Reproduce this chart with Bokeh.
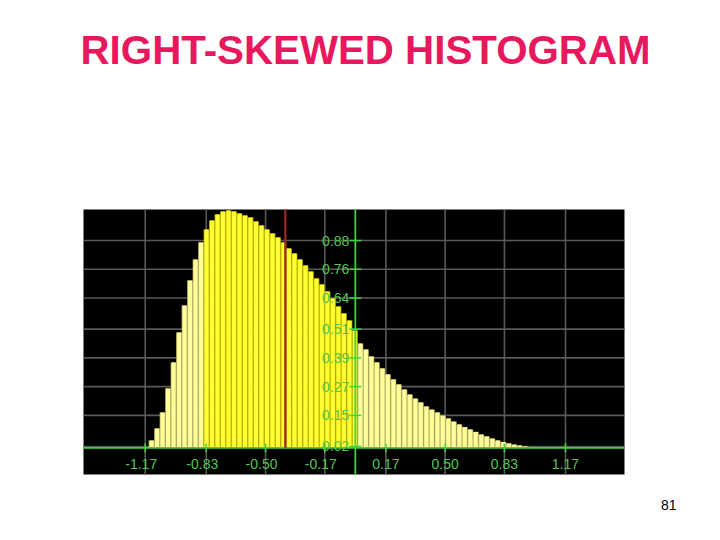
import math
from bokeh.plotting import figure
from bokeh.models import Range1d, Label, ColumnDataSource
from bokeh.embed import file_html
from bokeh.resources import INLINE

# ---------------- data ----------------
TITLE = "RIGHT-SKEWED HISTOGRAM"
PAGE_NUMBER = "81"

X_TICKS = [-1.17, -0.83, -0.50, -0.17, 0.17, 0.50, 0.83, 1.17]
X_TICK_LABELS = ["-1.17", "-0.83", "-0.50", "-0.17", "0.17", "0.50", "0.83", "1.17"]
Y_TICKS = [0.02, 0.15, 0.27, 0.39, 0.51, 0.64, 0.76, 0.88]
Y_TICK_LABELS = ["0.02", "0.15", "0.27", "0.39", "0.51", "0.64", "0.76", "0.88"]

BIN_START = -1.150
BIN_WIDTH = 0.0306
BAR_TOPS = [
    0.045, 0.095, 0.162, 0.262, 0.371, 0.496, 0.609, 0.713, 0.801, 0.872,
    0.926, 0.964, 0.989, 1.001, 1.005, 1.001, 0.993, 0.985, 0.976, 0.959,
    0.943, 0.926, 0.909, 0.893, 0.872, 0.847, 0.826, 0.801, 0.776, 0.751,
    0.721, 0.696, 0.667, 0.638, 0.605, 0.575, 0.546, 0.504, 0.450, 0.425,
    0.396, 0.371, 0.346, 0.321, 0.300, 0.279, 0.258, 0.237, 0.220, 0.204,
    0.187, 0.174, 0.162, 0.149, 0.137, 0.124, 0.112, 0.101, 0.091, 0.081,
    0.070, 0.062, 0.053, 0.045, 0.039, 0.033, 0.028, 0.024, 0.020, 0.018,
    0.016,
]
BASELINE = 0.014
MEAN_X = -0.39
BRIGHT_FROM = -0.83
BRIGHT_TO = 0.0

# plot-area (black panel) extent in data units
AREA_X = (-1.5137, 1.4986)
AREA_Y = (-0.0969, 1.0096)
# whole slide extent in the same units (panel sits inside the slide)
SLIDE_X = (-1.9758, 1.9886)
SLIDE_Y = (-0.3391, 1.8823)

# ---------------- styles ----------------
GREEN = "#3fd43f"
LABEL_GREEN = "#52c452"
GRID_GRAY = "#595959"
PALE_FILL = "#ffff99"
PALE_STRIPE = "#c8c070"
BRIGHT_FILL = "#ffff33"
BRIGHT_STRIPE = "#d0c400"
RED = "#a02828"
TITLE_COLOR = "#e8185e"

centers = [BIN_START + (i + 0.5) * BIN_WIDTH for i in range(len(BAR_TOPS))]
bright = [BRIGHT_FROM <= c < BRIGHT_TO for c in centers]
bars = ColumnDataSource(dict(
    x=centers,
    top=BAR_TOPS,
    fill=[BRIGHT_FILL if b else PALE_FILL for b in bright],
    stripe=[BRIGHT_STRIPE if b else PALE_STRIPE for b in bright],
))

p = figure(
    width=712, height=532,
    x_range=Range1d(*SLIDE_X), y_range=Range1d(*SLIDE_Y),
    output_backend="svg", toolbar_location=None,
    x_axis_location=None, y_axis_location=None,
    min_border=0,
)
p.background_fill_color = "white"
p.border_fill_color = "white"
p.outline_line_color = None
p.xgrid.visible = False
p.ygrid.visible = False

# black plot panel
p.quad(left=[AREA_X[0]], right=[AREA_X[1]], bottom=[AREA_Y[0]], top=[AREA_Y[1]],
       fill_color="black", line_color=None)

# grid lines
p.segment(x0=X_TICKS, x1=X_TICKS, y0=[AREA_Y[0]] * len(X_TICKS), y1=[AREA_Y[1]] * len(X_TICKS),
          line_color=GRID_GRAY, line_width=1.6)
p.segment(x0=[AREA_X[0]] * len(Y_TICKS), x1=[AREA_X[1]] * len(Y_TICKS), y0=Y_TICKS, y1=Y_TICKS,
          line_color=GRID_GRAY, line_width=1.6)

# histogram bars: darker stripe under a narrower bright face
p.vbar(x="x", top="top", bottom=BASELINE, width=BIN_WIDTH * 1.04, source=bars,
       fill_color="stripe", line_color=None)
p.vbar(x="x", top="top", bottom=BASELINE, width=BIN_WIDTH * 0.72, source=bars,
       fill_color="fill", line_color=None)

# axes through the origin
p.segment(x0=[0], x1=[0], y0=[AREA_Y[0]], y1=[AREA_Y[1]], line_color=GREEN, line_width=1.8)
p.segment(x0=[AREA_X[0]], x1=[AREA_X[1]], y0=[BASELINE], y1=[BASELINE],
          line_color=GREEN, line_width=1.8)

# mean line
p.segment(x0=[MEAN_X], y0=[BASELINE], x1=[MEAN_X], y1=[AREA_Y[1]],
          line_color=RED, line_width=2.2)

# tick marks
p.scatter(x=[0] * len(Y_TICKS), y=Y_TICKS, marker="dash", size=12,
          line_color=GREEN, line_width=1.5)
p.scatter(x=X_TICKS, y=[BASELINE] * len(X_TICKS), marker="dash", size=9,
          angle=math.pi / 2, line_color=GREEN, line_width=1.5)

# tick labels
p.text(x=X_TICKS, y=[BASELINE] * len(X_TICKS), text=X_TICK_LABELS,
       x_offset=[-4 if t.startswith("-") else 0 for t in X_TICK_LABELS],
       y_offset=16, text_align="center", text_baseline="middle",
       text_color=LABEL_GREEN, text_font_size="14px",
       text_font={"value": "Liberation Sans"})
p.text(x=[0] * len(Y_TICKS), y=Y_TICKS, text=Y_TICK_LABELS,
       x_offset=-6, text_align="right", text_baseline="middle",
       text_color=LABEL_GREEN, text_font_size="14px",
       text_font={"value": "Liberation Sans"})

# slide title and page number
p.add_layout(Label(x=80, y=482, x_units="screen", y_units="screen", text=TITLE,
                   text_font="Liberation Sans", text_font_style="bold",
                   text_font_size="40.3px", text_color=TITLE_COLOR,
                   text_baseline="alphabetic", text_align="left"))
p.add_layout(Label(x=676, y=28, x_units="screen", y_units="screen", text=PAGE_NUMBER,
                   text_font="Liberation Sans", text_font_size="14px",
                   text_color="black", text_baseline="alphabetic", text_align="right"))

open("out.html", "w").write(file_html(p, INLINE))
